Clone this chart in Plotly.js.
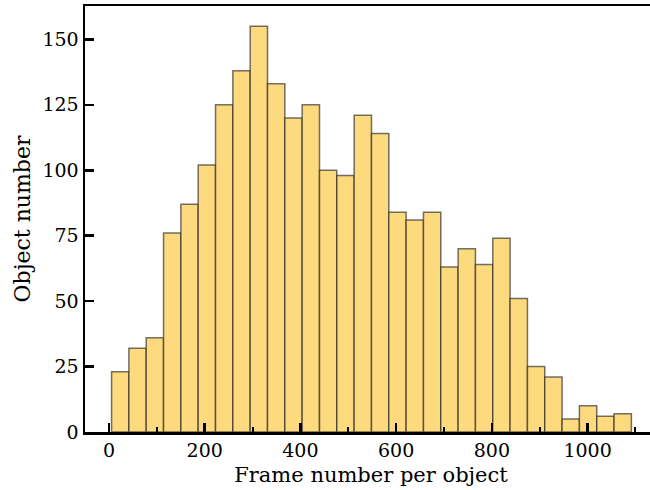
<!DOCTYPE html>
<html>
<head>
<meta charset="utf-8">
<script src="https://cdn.plot.ly/plotly-3.0.1.min.js"></script>
<style>
html, body { margin:0; padding:0; overflow:hidden; background:#fff; }
#chart { width:657px; height:490px; }
</style>
</head>
<body>
<div id="chart"></div>
<script>
// Histogram counts per bin (frame number per object)
const counts = [23, 32, 36, 76, 87, 102, 125, 138, 155, 133, 120, 125, 100, 98, 121,
                114, 84, 81, 84, 63, 70, 64, 74, 51, 25, 21, 5, 10, 6, 7];
const binStart = 5.5;
const binWidth = 36.2;
const xTickVals = [0, 200, 400, 600, 800, 1000];
const xTickText = ['0', '200', '400', '600', '800', '1000'];
const yTickVals = [0, 25, 50, 75, 100, 125, 150];
const yTickText = ['0', '25', '50', '75', '100', '125', '150'];

const centers = counts.map((_, i) => binStart + (i + 0.5) * binWidth);

const fontFam = '"DejaVu Serif", "Liberation Serif", serif';

const trace = {
  type: 'bar',
  x: centers,
  y: counts,
  width: binWidth,
  marker: {
    color: '#FEDA7E',
    line: { color: 'rgba(40,40,40,0.65)', width: 1.5 }
  },
  hoverinfo: 'skip'
};

const layout = {
  width: 657,
  height: 490,
  margin: { l: 85, r: 0, t: 6, b: 58 },
  paper_bgcolor: '#fff',
  plot_bgcolor: '#fff',
  showlegend: false,
  bargap: 0,
  font: { family: fontFam, color: '#000', size: 19 },
  xaxis: {
    range: [-50, 1145],
    tickmode: 'array',
    tickvals: xTickVals,
    ticktext: xTickText,
    ticks: 'inside',
    ticklen: 9,
    tickwidth: 2.5,
    tickcolor: '#000',
    minor: { ticks: 'inside', dtick: 100, tick0: 0, ticklen: 5, tickwidth: 2, tickcolor: '#000', showgrid: false },
    showgrid: false,
    zeroline: false,
    showline: true,
    linecolor: '#000',
    linewidth: 2.5,
    mirror: true,
    tickfont: { family: fontFam, size: 19, color: '#000' },
    title: { text: 'Frame number per object', font: { family: fontFam, size: 21, color: '#000' }, standoff: 7 }
  },
  yaxis: {
    range: [0, 162.75],
    tickmode: 'array',
    tickvals: yTickVals,
    ticktext: yTickText,
    ticks: 'inside',
    ticklen: 9,
    tickwidth: 2.5,
    tickcolor: '#000',
    showgrid: false,
    zeroline: false,
    showline: true,
    linecolor: '#000',
    linewidth: 2.5,
    mirror: true,
    tickfont: { family: fontFam, size: 19, color: '#000' },
    title: { text: 'Object number', font: { family: fontFam, size: 22, color: '#000' }, standoff: 6 }
  }
};

Plotly.newPlot('chart', [trace], layout, { displayModeBar: false, staticPlot: true });
</script>
</body>
</html>
